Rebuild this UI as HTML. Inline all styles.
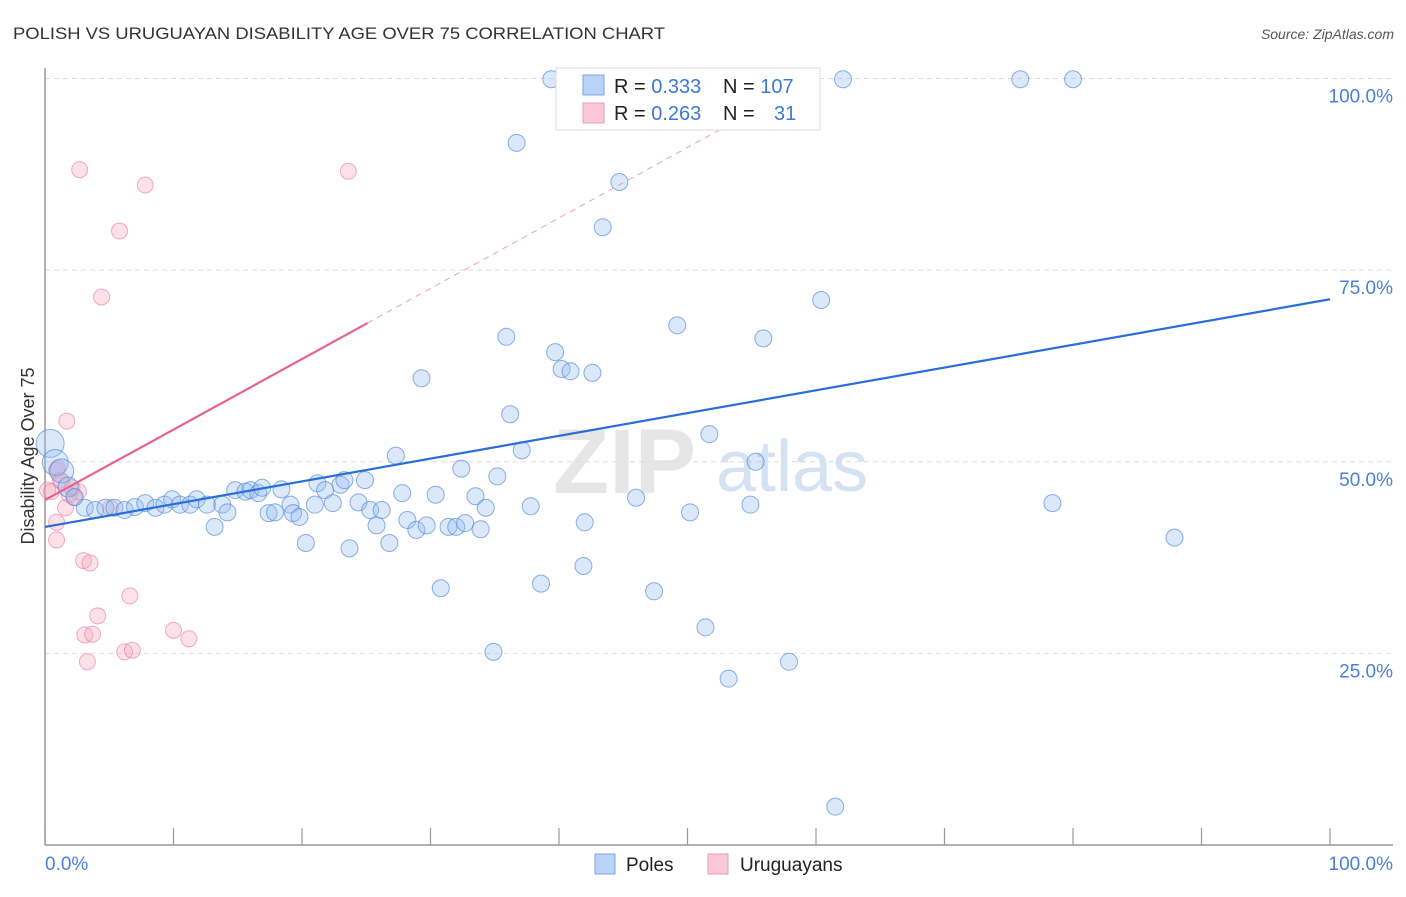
<!DOCTYPE html>
<html><head><meta charset="utf-8"><style>
body{margin:0;background:#fff;font-family:"Liberation Sans",sans-serif;}
svg text{font-family:"Liberation Sans",sans-serif;}
</style></head><body>
<svg width="1406" height="892" viewBox="0 0 1406 892" xmlns="http://www.w3.org/2000/svg">
<text x="13" y="39" font-size="17" fill="#333" textLength="652" lengthAdjust="spacingAndGlyphs">POLISH VS URUGUAYAN DISABILITY AGE OVER 75 CORRELATION CHART</text>
<text x="1394" y="39" font-size="14" fill="#555" font-style="italic" text-anchor="end">Source: ZipAtlas.com</text>
<g>
<text x="553" y="493" font-size="92" fill="#d6d6d6" font-family="Liberation Serif" font-weight="bold" opacity="0.6">ZIP</text>
<text x="716" y="491" font-size="72" fill="#b9d0ee" opacity="0.6">atlas</text>
</g>
<g id="grid"></g>
<g id="axes"></g>
<g id="marks"></g>
<text x="34" y="456" font-size="18" fill="#333" text-anchor="middle" transform="rotate(-90 34 456)">Disability Age Over 75</text>
<g>
<rect x="556" y="68" width="264" height="62" fill="#fff" stroke="#ddd"/>
<rect x="583" y="75" width="21" height="20" fill="#b8d3f5" stroke="#7ea6e0"/>
<text x="614" y="93" font-size="20" fill="#222">R = <tspan fill="#3d78d8">0.333</tspan></text>
<text x="723" y="93" font-size="20" fill="#222">N = <tspan fill="#3d78d8">107</tspan></text>
<rect x="583" y="103" width="21" height="20" fill="#fac8d6" stroke="#eb9ab3"/>
<text x="614" y="120" font-size="20" fill="#222">R = <tspan fill="#3d78d8">0.263</tspan></text>
<text x="723" y="120" font-size="20" fill="#222">N = <tspan fill="#3d78d8" x="774">31</tspan></text>
</g>
<g>
<rect x="595" y="854" width="20" height="20" fill="#b8d3f5" stroke="#7ea6e0"/>
<text x="626" y="871" font-size="19" fill="#222">Poles</text>
<rect x="708" y="854" width="20" height="20" fill="#fac8d6" stroke="#eb9ab3"/>
<text x="740" y="871" font-size="19" fill="#222">Uruguayans</text>
</g>
</svg>
<script>
const xTicks=[0,10,20,30,40,50,60,70,80,90,100];
const yTicks=[25,50,75,100];
const yTickLabels=["25.0%","50.0%","75.0%","100.0%"];
const xEndLabels=["0.0%","100.0%"];
const polesX=[0.4,0.8,1.3,1.8,2.3,3.1,3.9,4.7,5.4,6.2,7.0,7.8,8.6,9.3,9.9,10.5,11.3,11.8,12.6,13.2,13.8,14.2,14.8,15.6,16.0,16.6,16.9,17.4,17.9,18.4,19.1,19.3,19.8,20.3,21.0,21.2,21.8,22.4,23.0,23.3,23.7,24.4,24.9,25.3,25.8,26.2,26.8,27.3,27.8,28.2,28.9,29.3,29.7,30.4,30.8,31.4,32.0,32.4,32.7,33.5,33.9,34.3,34.9,35.2,35.9,36.2,36.7,37.1,37.8,38.6,39.4,39.7,40.2,40.9,41.3,42.0,41.9,42.6,43.4,44.7,46.0,46.9,47.4,49.2,50.2,51.4,51.7,53.2,53.5,54.9,55.3,55.9,57.9,60.4,61.5,62.1,75.9,78.4,80.0,87.9];
const polesY=[52.4,49.9,48.8,46.7,45.4,44.0,43.7,44.0,44.0,43.7,44.1,44.6,44.0,44.4,45.1,44.4,44.4,45.1,44.4,41.5,44.4,43.4,46.3,46.1,46.3,45.9,46.6,43.3,43.4,46.4,44.4,43.3,42.8,39.4,44.4,47.2,46.3,44.6,47.0,47.6,38.7,44.7,47.6,43.7,41.7,43.7,39.4,50.8,45.9,42.4,41.1,60.9,41.7,45.7,33.5,41.5,41.5,49.1,42.0,45.5,41.2,44.0,25.2,48.1,66.3,56.2,91.6,51.5,44.2,34.1,99.9,64.3,62.1,61.8,99.9,42.1,36.4,61.6,80.6,86.5,45.3,99.9,33.1,67.8,43.4,28.4,53.6,21.7,99.9,44.4,50.0,66.1,23.9,71.1,5.0,99.9,99.9,44.6,99.9,40.1];
const uruX=[0.2,0.5,0.9,1.3,1.7,1.9,2.3,2.7,3.0,3.1,3.5,3.3,3.7,4.1,4.4,5.1,5.8,6.2,6.6,6.8,7.8,10.0,11.2,23.6,0.9,0.9,1.6,2.6,1.0,1.2,2.1];
const uruY=[46.3,46.1,48.9,47.4,55.3,45.7,45.3,88.1,37.1,27.4,36.8,23.9,27.5,29.9,71.5,44.0,80.1,25.2,32.5,25.4,86.1,28.0,26.9,87.9,39.8,42.1,44.0,46.1,49.2,47.6,46.6];
const polesTrend=[41.5,71.2];   // y at x=0 and x=100
const uruTrend=[45.0,0.92];     // intercept, slope
const NS="http://www.w3.org/2000/svg";
const X0=45,X1=1330,Y0=845,Y100=78.5;
const sx=v=>X0+(X1-X0)*v/100;
const sy=v=>Y0-(Y0-Y100)*v/100;
function mk(tag,attrs,parent){const e=document.createElementNS(NS,tag);for(const k in attrs)e.setAttribute(k,attrs[k]);parent.appendChild(e);return e;}
const grid=document.getElementById('grid'),axes=document.getElementById('axes'),marks=document.getElementById('marks');
yTicks.forEach((t,i)=>{
 const l=mk('line',{x1:X0,x2:1393,y1:sy(t),y2:sy(t),stroke:'#ddd','stroke-dasharray':'5,4'},grid);
 
 
 const tx=mk('text',{x:1393,y:sy(t)+24,'font-size':19,fill:'#4a80d8','text-anchor':'end'},axes);
 tx.textContent=yTickLabels[i];
 
 
});
const ya=mk('line',{x1:X0,x2:X0,y1:68,y2:Y0,stroke:'#999','stroke-width':1.5},axes);


const xa=mk('line',{x1:X0,x2:1393,y1:Y0,y2:Y0,stroke:'#999','stroke-width':1.5},axes);


xTicks.forEach(t=>{
 const l=mk('line',{x1:sx(t),x2:sx(t),y1:828,y2:Y0,stroke:'#999','stroke-width':1.2},axes);
 
 
});
const xl0=mk('text',{x:45,y:870,'font-size':19,fill:'#4a80d8'},axes);xl0.textContent=xEndLabels[0];


const xl1=mk('text',{x:1393,y:870,'font-size':19,fill:'#4a80d8','text-anchor':'end'},axes);xl1.textContent=xEndLabels[1];


uruX.forEach((x,i)=>{
 const c=mk('circle',{cx:sx(x),cy:sy(uruY[i]),r:8,fill:'rgba(246,170,193,0.35)',stroke:'rgba(232,120,155,0.6)','stroke-width':1},marks);
 
 
});
polesX.forEach((x,i)=>{
 const r=i===0?14:i===1?13:i===2?12:i===3?10:8.5;
 const c=mk('circle',{cx:sx(x),cy:sy(polesY[i]),r:r,fill:'rgba(150,190,240,0.35)',stroke:'rgba(80,135,215,0.65)','stroke-width':1},marks);
 
 
});
const bt=mk('line',{x1:sx(0),y1:sy(polesTrend[0]),x2:sx(100),y2:sy(polesTrend[1]),stroke:'#2a6fd6','stroke-width':2.2},marks);


const xs=25.1, xe=(100-uruTrend[0])/uruTrend[1];
const pt=mk('line',{x1:sx(0),y1:sy(uruTrend[0]),x2:sx(xs),y2:sy(uruTrend[0]+uruTrend[1]*xs),stroke:'#e8628e','stroke-width':2.2},marks);


const pd=mk('line',{x1:sx(xs),y1:sy(uruTrend[0]+uruTrend[1]*xs),x2:sx(xe),y2:sy(100),stroke:'#eaa0b8','stroke-width':1,'stroke-dasharray':'6,5'},marks);


</script>
</body></html>
